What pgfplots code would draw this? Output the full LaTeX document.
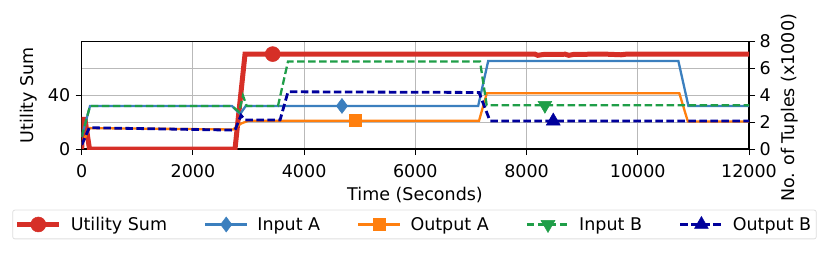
\documentclass[border=0pt]{standalone}
\usepackage{pgfplots}
\pgfplotsset{compat=1.18}
\usepackage{fontspec}
\setmainfont{DejaVu Sans}
\definecolor{cRed}{HTML}{D62F27}
\definecolor{cBlue}{HTML}{3B7FBE}
\definecolor{cOrange}{HTML}{FF7F0E}
\definecolor{cGreen}{HTML}{1F9E48}
\definecolor{cNavy}{HTML}{00009C}
\newcommand{\fs}{\fontsize{17.5}{21}\selectfont}
\begin{document}
\begin{tikzpicture}
\useasboundingbox (0,0) rectangle (830pt,255pt);
\pgfplotsset{
  common/.style={
    scale only axis, width=667.3pt, height=107.7pt,
    at={(81.7pt,106pt)}, anchor=south west,
    xmin=0, xmax=12000,
    tick align=outside, major tick length=6pt,
    tick style={black, line width=1pt},
    axis line style={black, line width=1.1pt},
    tick label style={font=\fs},
    label style={font=\fs},
    /pgf/number format/assume math mode=true,
    /pgf/number format/1000 sep={},
    scaled ticks=false,
    grid style={gray!55, line width=1pt},
  },
}
% right axis (tuples), drawn first for grid
\begin{axis}[common,
  hide x axis,
  axis y line*=right,
  ymin=0, ymax=8, ytick={0,2,4,6,8},
  ymajorgrids,
  yticklabel style={xshift=1pt},
  ylabel={No. of Tuples (x1000)},
  ylabel style={at={(axis description cs:1.0615,0.381)}, anchor=center},
]
\addplot[draw=none, forget plot] coordinates {(0,0)};
\end{axis}
% main axis
\begin{axis}[common,
  ymin=0, ymax=80, ytick={0,40},
  xtick={0,2000,4000,6000,8000,10000,12000},
  xtick pos=bottom, ytick pos=left,
  xmajorgrids,
  xticklabel style={yshift=-6pt},
  yticklabel style={xshift=-2pt},
  xlabel={Time (Seconds)},
  ylabel={Utility Sum},
  xlabel style={at={(axis description cs:0.4995,-0.427)}, anchor=center},
  ylabel style={at={(axis description cs:-0.079,0.5)}, anchor=center},
  legend columns=5,
  legend style={font=\fs, at={(axis description cs:0.4987,-0.701)}, anchor=center,
    draw=gray!25, rounded corners=2pt, line width=0.8pt, inner sep=2pt,
    /tikz/every even column/.append style={column sep=34pt},
    /tikz/every odd column/.append style={column sep=6pt},
    nodes={inner xsep=3pt, inner ysep=5pt}},
  legend cell align=left,
  legend image code/.code={\draw[#1, mark indices={2}] plot coordinates {(0pt,0pt) (21pt,0pt) (42pt,0pt)};},
]
% Utility Sum
\addplot[cRed, line width=5pt, mark=*, mark size=7.5pt, mark options={solid, line width=0.5pt, fill=cRed}, mark indices={7}]
coordinates {(0,0) (15,22) (60,22) (140,0) (2757,0) (2937,70.5) (3435,70.5) (8150,70.5) (8200,69.6) (8300,70.2) (8700,70.4) (8760,69.6) (8850,70.3) (9400,70.5) (9700,70.0) (9800,70.5) (12000,70.5)};
\addlegendentry{Utility Sum}
% Input A
\addplot[cBlue, line width=2.3pt, mark=diamond*, mark size=7.5pt, mark options={solid, line width=0.5pt, fill=cBlue}, mark indices={6}]
coordinates {(0,9) (150,32) (2700,32) (2850,26) (2950,32) (4680,32) (7130,32) (7310,65.4) (10730,65.4) (10910,32) (12000,32)};
\addlegendentry{Input A}
% Output A
\addplot[cOrange, line width=2.3pt, mark=square*, mark size=6pt, mark options={solid, line width=0.5pt, fill=cOrange}, mark indices={6}]
coordinates {(0,3) (140,15.5) (2720,14.5) (2870,19) (3000,21) (4920,21) (7145,21) (7285,41.4) (10747,41.4) (10900,20.5) (12000,20.5)};
\addlegendentry{Output A}
% Input B
\addplot[cGreen, line width=2.3pt, dash pattern=on 7.5pt off 3.5pt, mark=triangle*, mark size=8pt, mark options={solid, rotate=180, line width=0.5pt, fill=cGreen}, mark indices={11}]
coordinates {(0,9) (150,32) (2700,32) (2830,27.5) (2900,39.6) (2967,32) (3530,32) (3710,65) (7163,65) (7283,32.5) (8330,32.5) (12000,32.5)};
\addlegendentry{Input B}
% Output B
\addplot[cNavy, line width=2.8pt, dash pattern=on 7.5pt off 3.5pt, mark=triangle*, mark size=8pt, mark options={solid, line width=0.5pt, fill=cNavy}, mark indices={10}]
coordinates {(0,3) (137,15.8) (2757,14) (2865,25) (2937,21.5) (3567,21.5) (3710,42.5) (7145,42) (7343,20.8) (8480,20.8) (12000,20.8)};
\addlegendentry{Output B}
\end{axis}
\end{tikzpicture}
\end{document}
